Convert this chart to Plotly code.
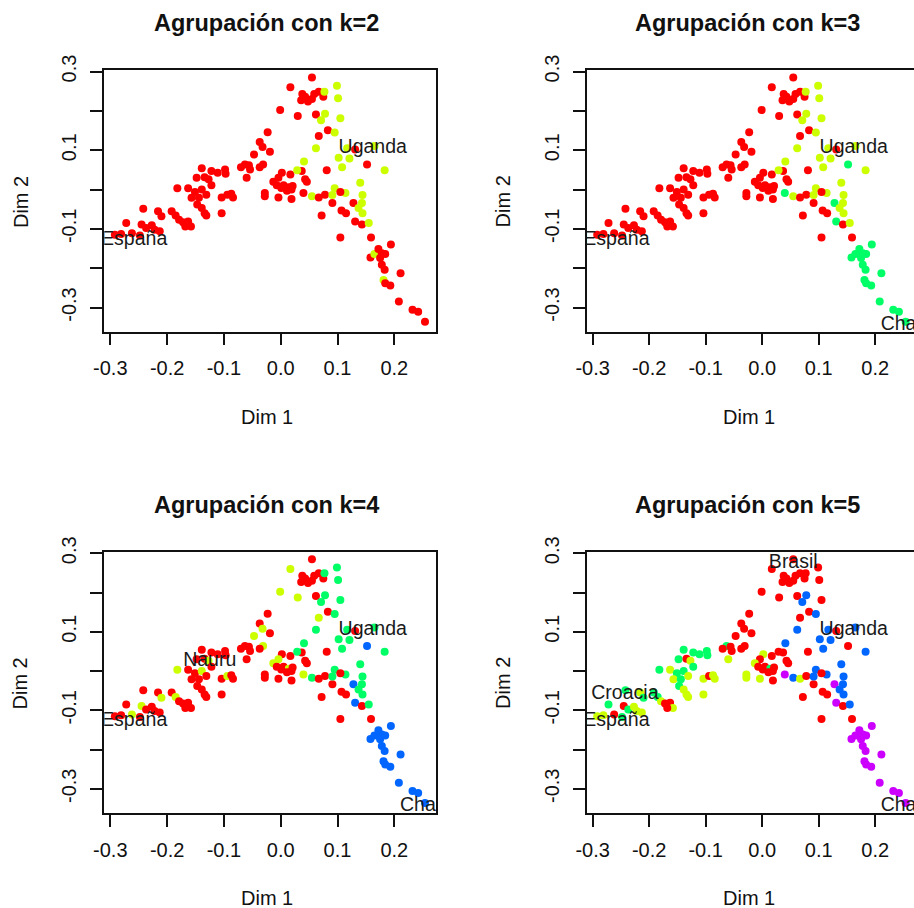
import plotly.graph_objects as go

# ---- data (Dim 1 / Dim 2 coordinates of each country) ----
dim1 = [
    # upper peak
    0.055, 0.017, 0.038, 0.043, 0.036, 0.048, 0.055, 0.059, 0.067, 0.075,
    0.099, 0.077, 0.101, -0.001, 0.030, 0.062, 0.078, 0.071, 0.105, 0.083,
    0.095, 0.067, 0.062,
    # left arm
    -0.023, -0.037, -0.032, -0.019, -0.047, -0.063, -0.056, -0.070, -0.054, -0.060,
    -0.031, -0.037, -0.139, -0.122, -0.111, -0.098, -0.097, -0.148, -0.134, -0.127,
    -0.122, -0.182, -0.163, -0.151, -0.139, -0.131, -0.157, -0.144, -0.104, -0.094,
    -0.087, -0.084, -0.147, -0.139, -0.134, -0.131, -0.104, -0.192, -0.185, -0.179,
    -0.172, -0.163, -0.158, -0.168, -0.242, -0.216, -0.210, -0.272, -0.245, -0.237,
    -0.227, -0.222, -0.213, -0.292, -0.281, -0.262, -0.248,
    # centre
    0.002, -0.004, -0.013, -0.007, 0.005, 0.014, 0.021, 0.001, 0.011, 0.019,
    -0.028, -0.028, -0.004, 0.019, 0.017, 0.037, 0.043, 0.046, 0.040, 0.041,
    0.029, 0.055,
    # right of centre
    0.067, 0.078, 0.091, 0.072, 0.081, 0.095, 0.091, 0.114, 0.105, 0.107,
    0.115, 0.105, 0.128, 0.131, 0.143, 0.152, 0.159, 0.102, 0.108, 0.121,
    0.117, 0.165, 0.183, 0.140, 0.144, 0.143, 0.137, 0.144, 0.155, 0.131,
    # lower tail
    0.158, 0.165, 0.172, 0.178, 0.184, 0.175, 0.194, 0.178, 0.183, 0.181,
    0.184, 0.193, 0.211, 0.208, 0.232, 0.242, 0.254,
]
dim2 = [
    0.285, 0.260, 0.243, 0.236, 0.227, 0.224, 0.230, 0.243, 0.249, 0.236,
    0.264, 0.249, 0.232, 0.202, 0.187, 0.191, 0.193, 0.176, 0.181, 0.151,
    0.145, 0.136, 0.105,
    0.146, 0.121, 0.108, 0.096, 0.089, 0.064, 0.062, 0.057, 0.051, 0.030,
    0.064, 0.057, 0.054, 0.047, 0.043, 0.051, 0.040, 0.030, 0.031, 0.026,
    0.011, 0.003, 0.003, -0.006, 0.000, -0.013, -0.021, -0.021, -0.020, -0.013,
    -0.011, -0.020, -0.038, -0.047, -0.060, -0.066, -0.060, -0.055, -0.066, -0.077,
    -0.083, -0.081, -0.094, -0.094, -0.049, -0.055, -0.068, -0.085, -0.089, -0.098,
    -0.091, -0.102, -0.106, -0.115, -0.113, -0.111, -0.117,
    0.043, 0.030, 0.020, 0.011, 0.011, 0.006, 0.009, 0.004, -0.003, 0.000,
    -0.009, -0.017, -0.020, -0.024, 0.038, 0.047, 0.026, 0.020, -0.009, 0.071,
    0.049, -0.017,
    -0.020, -0.013, -0.034, -0.066, 0.049, 0.003, -0.014, -0.009, -0.006, -0.053,
    -0.060, -0.122, -0.034, -0.081, -0.089, 0.064, -0.122, 0.081, 0.057, 0.079,
    0.105, 0.111, 0.049, 0.017, -0.014, -0.034, -0.047, -0.060, -0.085, 0.102,
    -0.173, -0.164, -0.151, -0.162, -0.164, -0.174, -0.140, -0.191, -0.204, -0.230,
    -0.238, -0.244, -0.213, -0.285, -0.306, -0.311, -0.336,
]

# cluster membership for each k (1-based)
cluster_k2 = (
    [1] * 10 + [2, 2, 2] + [1, 1, 1] + [2, 2, 2] + [1, 2, 1, 2]
    + [1] * 57
    + [1] * 19 + [2, 2, 2]
    + [1] * 5 + [2] * 3 + [1] * 9 + [2] * 12 + [1]
    + [1, 2, 1, 1, 1, 1, 1, 1, 1, 2, 1, 1, 1, 1, 1, 1, 1]
)
cluster_k3 = (
    [1] * 10 + [2, 2, 2] + [1, 1, 1] + [2, 2, 2] + [1, 2, 1, 2]
    + [1] * 57
    + [1] * 18 + [3, 2, 2, 2]
    + [1] * 5 + [2] * 3 + [1] * 4 + [3, 3, 1, 3, 1] + [2] * 12 + [1]
    + [3] * 17
)
cluster_k4 = (
    [1, 2] + [1] * 8 + [3, 3, 3] + [2, 2, 1] + [3, 3, 3] + [1, 3, 2, 3]
    + [1, 1, 2, 1, 2, 1, 1, 1, 1, 1,
       2, 1, 1, 1, 1, 1, 1, 1, 1, 2,
       1, 2, 1, 1, 2, 1, 1, 1, 1, 2,
       1, 1, 1, 1, 1, 1, 1, 1, 2, 1,
       1, 1, 1, 1, 1, 1, 2, 1, 2, 1,
       1, 1, 1, 1, 1, 2, 1]
    + [1, 2, 2, 1, 1, 2] + [1] * 12 + [2, 3, 3, 3]
    + [1] * 5 + [3] * 3 + [1] * 4 + [4, 4, 1, 4, 1] + [3] * 12 + [1]
    + [4] * 17
)
cluster_k5 = (
    [1] * 16 + [4, 4, 1, 1, 4, 1, 4]
    + [1, 1, 1, 1, 1, 3, 1, 1, 1, 2,
       1, 1, 3, 3, 3, 3, 3, 3, 1, 2,
       3, 3, 2, 3, 3, 2, 2, 3, 2, 1,
       2, 2, 3, 2, 2, 2, 2, 3, 3, 2,
       1, 1, 2, 1, 3, 2, 3, 3, 1, 3,
       2, 2, 2, 2, 2, 1, 3]
    + [2, 1, 2, 1, 1, 3, 1, 1, 1, 1, 2, 2, 2, 1, 1, 1, 1, 1, 5, 4, 1, 4]
    + [2, 1, 1, 1, 1, 4, 4, 4, 1, 1, 1, 1, 5, 5, 1, 1, 1] + [4] * 12 + [1]
    + [5] * 17
)

# labelled countries per panel
label_names = ["España", "Uganda", "Chad", "Nauru", "Croacia", "Brasil"]
label_dim1 = [-0.258, 0.162, 0.251, -0.125, -0.243, 0.055]
label_dim2 = [-0.128, 0.105, -0.345, 0.026, -0.060, 0.276]
labels_per_k = {
    2: ["España", "Uganda"],
    3: ["España", "Uganda", "Chad"],
    4: ["España", "Uganda", "Chad", "Nauru"],
    5: ["España", "Uganda", "Chad", "Croacia", "Brasil"],
}

ks = [2, 3, 4, 5]
clusters = {2: cluster_k2, 3: cluster_k3, 4: cluster_k4, 5: cluster_k5}
palette = ["#FF0000", "#CCFF00", "#00FF66", "#0066FF", "#CC00FF"]  # rainbow(5)

x_ticks = [-0.3, -0.2, -0.1, 0.0, 0.1, 0.2]
x_ticktext = ["-0.3", "-0.2", "-0.1", "0.0", "0.1", "0.2"]
y_ticks = [-0.3, -0.2, -0.1, 0.0, 0.1, 0.2, 0.3]
y_ticktext = ["-0.3", "", "-0.1", "", "0.1", "", "0.3"]

W, H = 914, 908
FONT = "Liberation Sans, Arial, sans-serif"

# panel boxes in pixels: (left, right, top, bottom)
panels = [
    (104.3, 436.0, 70.0, 331.5),
    (586.7, 914.0, 70.0, 331.5),
    (104.3, 436.0, 551.7, 812.7),
    (586.7, 914.0, 551.7, 812.7),
]
x_ranges = [[-0.3106, 0.2734], [-0.3106, 0.2687], [-0.3106, 0.2734], [-0.3106, 0.2687]]
y_range = [-0.361, 0.304]

fig = go.Figure()
layout = dict(
    width=W, height=H, autosize=False,
    margin=dict(l=0, r=0, t=0, b=0, pad=0, autoexpand=False),
    paper_bgcolor="white", plot_bgcolor="white",
    showlegend=False,
    font=dict(family=FONT, size=20, color="#111"),
)
annotations = []

for i, k in enumerate(ks):
    n = "" if i == 0 else str(i + 1)
    L, R, T, B = panels[i]
    is_right = (i % 2 == 1)
    cols = [palette[c - 1] for c in clusters[k]]
    fig.add_trace(go.Scatter(
        x=dim1, y=dim2, mode="markers",
        marker=dict(size=8, color=cols, line=dict(width=0)),
        xaxis="x" + n, yaxis="y" + n, hoverinfo="skip", cliponaxis=True,
    ))
    names = labels_per_k[k]
    lx = [label_dim1[label_names.index(s)] for s in names]
    ly = [label_dim2[label_names.index(s)] for s in names]
    fig.add_trace(go.Scatter(
        x=lx, y=ly, mode="text", text=names, textposition="middle center",
        textfont=dict(family=FONT, size=19.5, color="#1a1a1a"),
        xaxis="x" + n, yaxis="y" + n, hoverinfo="skip", cliponaxis=True,
    ))
    layout["xaxis" + n] = dict(
        domain=[L / W, R / W], range=x_ranges[i], anchor="y" + n,
        tickmode="array", tickvals=x_ticks, ticktext=x_ticktext,
        ticks="outside", ticklen=12, tickwidth=1.8, tickcolor="#111",
        showline=True, linewidth=1.8, linecolor="#111", mirror=True,
        showgrid=False, zeroline=False, automargin=False,
        tickfont=dict(family=FONT, size=20, color="#111"),
        ticklabelstandoff=6,
    )
    layout["yaxis" + n] = dict(
        domain=[1 - B / H, 1 - T / H], range=y_range, anchor="x" + n,
        tickmode="array", tickvals=y_ticks, ticktext=y_ticktext,
        ticks="outside", ticklen=12, tickwidth=1.8, tickcolor="#111",
        showline=True, linewidth=1.8, linecolor="#111", mirror=not is_right,
        showgrid=False, zeroline=False, tickangle=-90, automargin=False,
        tickfont=dict(family=FONT, size=20, color="#111"),
        ticklabelstandoff=6,
    )
    cx = (L + (R if not is_right else 917.0)) / 2
    # panel title
    annotations.append(dict(
        text="<b>Agrupación con k=%d</b>" % k, xref="paper", yref="paper",
        x=(cx - 4) / W, y=1 - (T - 47) / H, xanchor="center", yanchor="middle",
        showarrow=False, font=dict(family=FONT, size=23.5, color="#111"),
    ))
    # axis titles
    annotations.append(dict(
        text="Dim 1", xref="paper", yref="paper",
        x=(cx - 3) / W, y=1 - (B + 85) / H, xanchor="center", yanchor="middle",
        showarrow=False, font=dict(family=FONT, size=20, color="#111"),
    ))
    annotations.append(dict(
        text="Dim 2", xref="paper", yref="paper", textangle=-90,
        x=(L - 84) / W, y=1 - ((T + B) / 2 + 1) / H, xanchor="center", yanchor="middle",
        showarrow=False, font=dict(family=FONT, size=20, color="#111"),
    ))

layout["annotations"] = annotations
fig.update_layout(**layout)

fig.write_html(
    "out.html",
    config={"displayModeBar": False},
    post_script="document.body.style.margin='0';document.body.style.overflow='hidden';",
)
